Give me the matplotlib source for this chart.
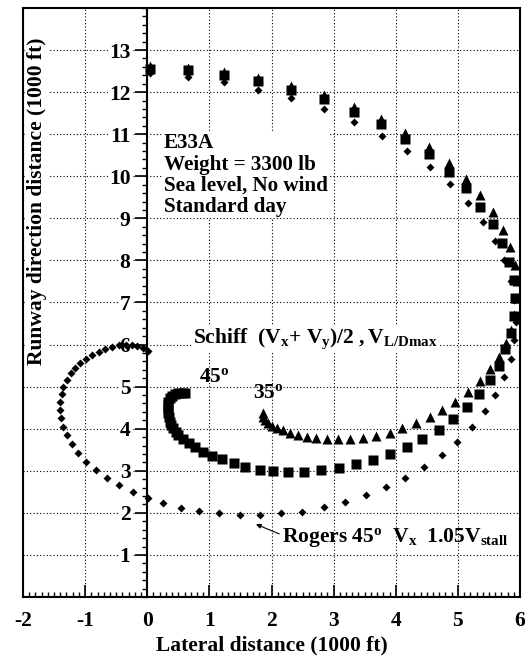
import numpy as np
import matplotlib
matplotlib.use('Agg')
import matplotlib.pyplot as plt
from matplotlib.ticker import MultipleLocator

plt.rcParams['font.family'] = ['Liberation Serif', 'DejaVu Serif']
plt.rcParams['font.weight'] = 'bold'
plt.rcParams['axes.unicode_minus'] = False
plt.rcParams['mathtext.fontset'] = 'custom'
plt.rcParams['mathtext.rm'] = 'Liberation Serif:bold'
plt.rcParams['mathtext.it'] = 'Liberation Serif:bold'
plt.rcParams['mathtext.bf'] = 'Liberation Serif:bold'

# Rogers 45 deg, Vx, 1.05 Vstall (diamonds)
rog_x = [0.05, 0.65, 1.23, 1.79, 2.32, 2.84, 3.32, 3.78, 4.18, 4.55,
         4.87, 5.16, 5.40, 5.60, 5.75, 5.85, 5.91, 5.93, 5.90, 5.85,
         5.74, 5.60, 5.43, 5.22, 4.99, 4.75, 4.45, 4.15, 3.84, 3.52,
         3.19, 2.84, 2.49, 2.16, 1.82, 1.49, 1.16, 0.84, 0.55, 0.26,
         0.01, -0.23, -0.46, -0.65, -0.82, -0.98, -1.11, -1.21, -1.29, -1.36,
         -1.39, -1.40, -1.40, -1.38, -1.35, -1.29, -1.23, -1.16, -1.08, -0.98,
         -0.89, -0.78, -0.68, -0.57, -0.46, -0.35, -0.25, -0.16, -0.07, 0.02]
rog_y = [12.46, 12.35, 12.23, 12.06, 11.85, 11.60, 11.30, 10.96, 10.61, 10.23,
         9.81, 9.37, 8.92, 8.47, 8.01, 7.52, 7.06, 6.54, 6.10, 5.65,
         5.22, 4.80, 4.41, 4.05, 3.69, 3.37, 3.10, 2.82, 2.62, 2.42,
         2.26, 2.13, 2.03, 1.99, 1.95, 1.95, 1.99, 2.04, 2.12, 2.23,
         2.35, 2.50, 2.67, 2.84, 3.03, 3.22, 3.43, 3.64, 3.85, 4.05,
         4.25, 4.44, 4.64, 4.82, 5.00, 5.16, 5.32, 5.44, 5.56, 5.66,
         5.75, 5.83, 5.89, 5.95, 5.98, 6.00, 6.00, 5.96, 5.91, 5.84]

# Schiff 45 deg (squares)
sq_x = [0.05, 0.65, 1.23, 1.79, 2.32, 2.84, 3.32, 3.76, 4.15, 4.53,
        4.85, 5.13, 5.36, 5.57, 5.71, 5.82, 5.90, 5.92, 5.91, 5.85,
        5.76, 5.66, 5.51, 5.34, 5.15, 4.92, 4.69, 4.43, 4.18, 3.90,
        3.63, 3.36, 3.08, 2.80, 2.53, 2.27, 2.02, 1.81, 1.58, 1.39,
        1.20, 1.04, 0.90, 0.77, 0.67, 0.58, 0.50, 0.46, 0.42, 0.39,
        0.37, 0.35, 0.33, 0.33, 0.33, 0.34, 0.37, 0.40, 0.45, 0.50,
        0.56, 0.61]
sq_y = [12.56, 12.52, 12.40, 12.26, 12.06, 11.83, 11.53, 11.24, 10.88, 10.52,
        10.11, 9.71, 9.28, 8.86, 8.41, 7.97, 7.53, 7.10, 6.69, 6.27,
        5.89, 5.50, 5.16, 4.82, 4.51, 4.22, 3.97, 3.75, 3.56, 3.39,
        3.26, 3.15, 3.06, 3.02, 2.98, 2.98, 3.00, 3.03, 3.10, 3.18,
        3.27, 3.35, 3.45, 3.56, 3.66, 3.75, 3.85, 3.93, 4.01, 4.09,
        4.17, 4.27, 4.37, 4.47, 4.56, 4.64, 4.72, 4.78, 4.83, 4.85,
        4.86, 4.85]

# Schiff 35 deg (triangles)
tri_x = [0.05, 0.65, 1.23, 1.79, 2.32, 2.84, 3.32, 3.76, 4.15, 4.53,
         4.85, 5.13, 5.36, 5.57, 5.72, 5.84, 5.92, 5.95, 5.94, 5.90,
         5.85, 5.77, 5.66, 5.51, 5.35, 5.16, 4.96, 4.75, 4.55, 4.33,
         4.10, 3.90, 3.68, 3.47, 3.27, 3.07, 2.89, 2.72, 2.57, 2.43,
         2.30, 2.19, 2.09, 2.01, 1.94, 1.90, 1.87, 1.86]
tri_y = [12.62, 12.58, 12.47, 12.34, 12.14, 11.93, 11.64, 11.37, 11.04, 10.70,
         10.32, 9.94, 9.55, 9.14, 8.73, 8.31, 7.90, 7.52, 7.10, 6.70,
         6.35, 6.03, 5.71, 5.41, 5.14, 4.88, 4.64, 4.44, 4.27, 4.13,
         4.01, 3.91, 3.83, 3.79, 3.75, 3.75, 3.75, 3.77, 3.81, 3.85,
         3.91, 3.96, 4.01, 4.06, 4.13, 4.21, 4.29, 4.38]

x_ticks = [-2, -1, 0, 1, 2, 3, 4, 5, 6]
y_ticks = [1, 2, 3, 4, 5, 6, 7, 8, 9, 10, 11, 12, 13]

fig = plt.figure(figsize=(5.32, 6.61), dpi=100)
ax = fig.add_axes([23/532, 64/661, 497/532, 589/661])

# y axis drawn through x = 0, frame kept at x = -2
ax.spines['left'].set_position(('data', 0))
ax.axvline(-2, color='k', lw=1.5, clip_on=False)
for s in ax.spines.values():
    s.set_linewidth(1.5)

ax.plot(tri_x, tri_y, '^', color='k', ms=7, mec='none')
ax.plot(rog_x, rog_y, 'D', color='k', ms=4.2, mec='none')
ax.plot(sq_x, sq_y, 's', color='k', ms=7, mec='none')

ax.set_xlim(-2, 6)
ax.set_ylim(0, 14)
ax.set_xticks(x_ticks)
ax.set_xticklabels([str(t) for t in x_ticks], fontsize=15.5, fontweight='bold')
ax.set_yticks(y_ticks)
ax.set_yticklabels([str(t) for t in y_ticks], fontsize=15.5, fontweight='bold')
ax.xaxis.set_minor_locator(MultipleLocator(0.1))
ax.yaxis.set_minor_locator(MultipleLocator(0.2))
ax.grid(True, which='major', ls=(0, (1, 2)), color='k', lw=0.8)

ax.tick_params(axis='x', which='major', direction='in', length=8.6, width=1.2,
               pad=10, top=False)
ax.tick_params(axis='x', which='minor', direction='in', length=3.6, width=1.0, top=False)
ax.tick_params(axis='y', which='major', direction='out', length=8.6, width=1.2,
               pad=3.5, right=False)
ax.tick_params(axis='y', which='minor', direction='out', length=3.6, width=1.0, right=False)
for lbl in ax.get_yticklabels():
    lbl.set_bbox(dict(facecolor='white', edgecolor='none', pad=1))

ax.set_xlabel('Lateral distance (1000 ft)', fontsize=15.5, fontweight='bold', labelpad=3)
ax.text(-1.78, 9.4, 'Runway direction distance (1000 ft)', rotation=90,
        ha='center', va='center', fontsize=15.5, fontweight='bold',
        bbox=dict(facecolor='white', edgecolor='none', pad=1))

ax.text(0.27, 11.02, 'E33A\nWeight = 3300 lb\nSea level, No wind\nStandard day',
        ha='left', va='top', fontsize=15.2, fontweight='bold', linespacing=1.08,
        bbox=dict(facecolor='white', edgecolor='none', pad=1))
ax.text(0.74, 6.03, r'Schiff  $(\mathrm{V_x}$+ $\mathrm{V_y})/2\;,\mathrm{V_{L/Dmax}}$',
        ha='left', va='baseline', fontsize=15.5, fontweight='bold',
        bbox=dict(facecolor='white', edgecolor='none', pad=1))
ax.text(0.84, 5.12, r'45$^{\mathrm{o}}$', ha='left', va='baseline', fontsize=15.5,
        fontweight='bold')
ax.text(1.71, 4.74, r'35$^{\mathrm{o}}$', ha='left', va='baseline', fontsize=15.5,
        fontweight='bold')
ax.annotate(r'Rogers 45$^{\mathrm{o}}$  $\mathrm{V_x}$  1.05$\mathrm{V_{stall}}$',
            xy=(1.75, 1.73), xytext=(2.17, 1.31), ha='left', va='baseline',
            fontsize=15.5, fontweight='bold',
            arrowprops=dict(arrowstyle='-|>', color='k', lw=0.8, mutation_scale=7,
                            shrinkA=0, shrinkB=0, relpos=(0, 0.6)))

plt.savefig('out.png', dpi=100)
